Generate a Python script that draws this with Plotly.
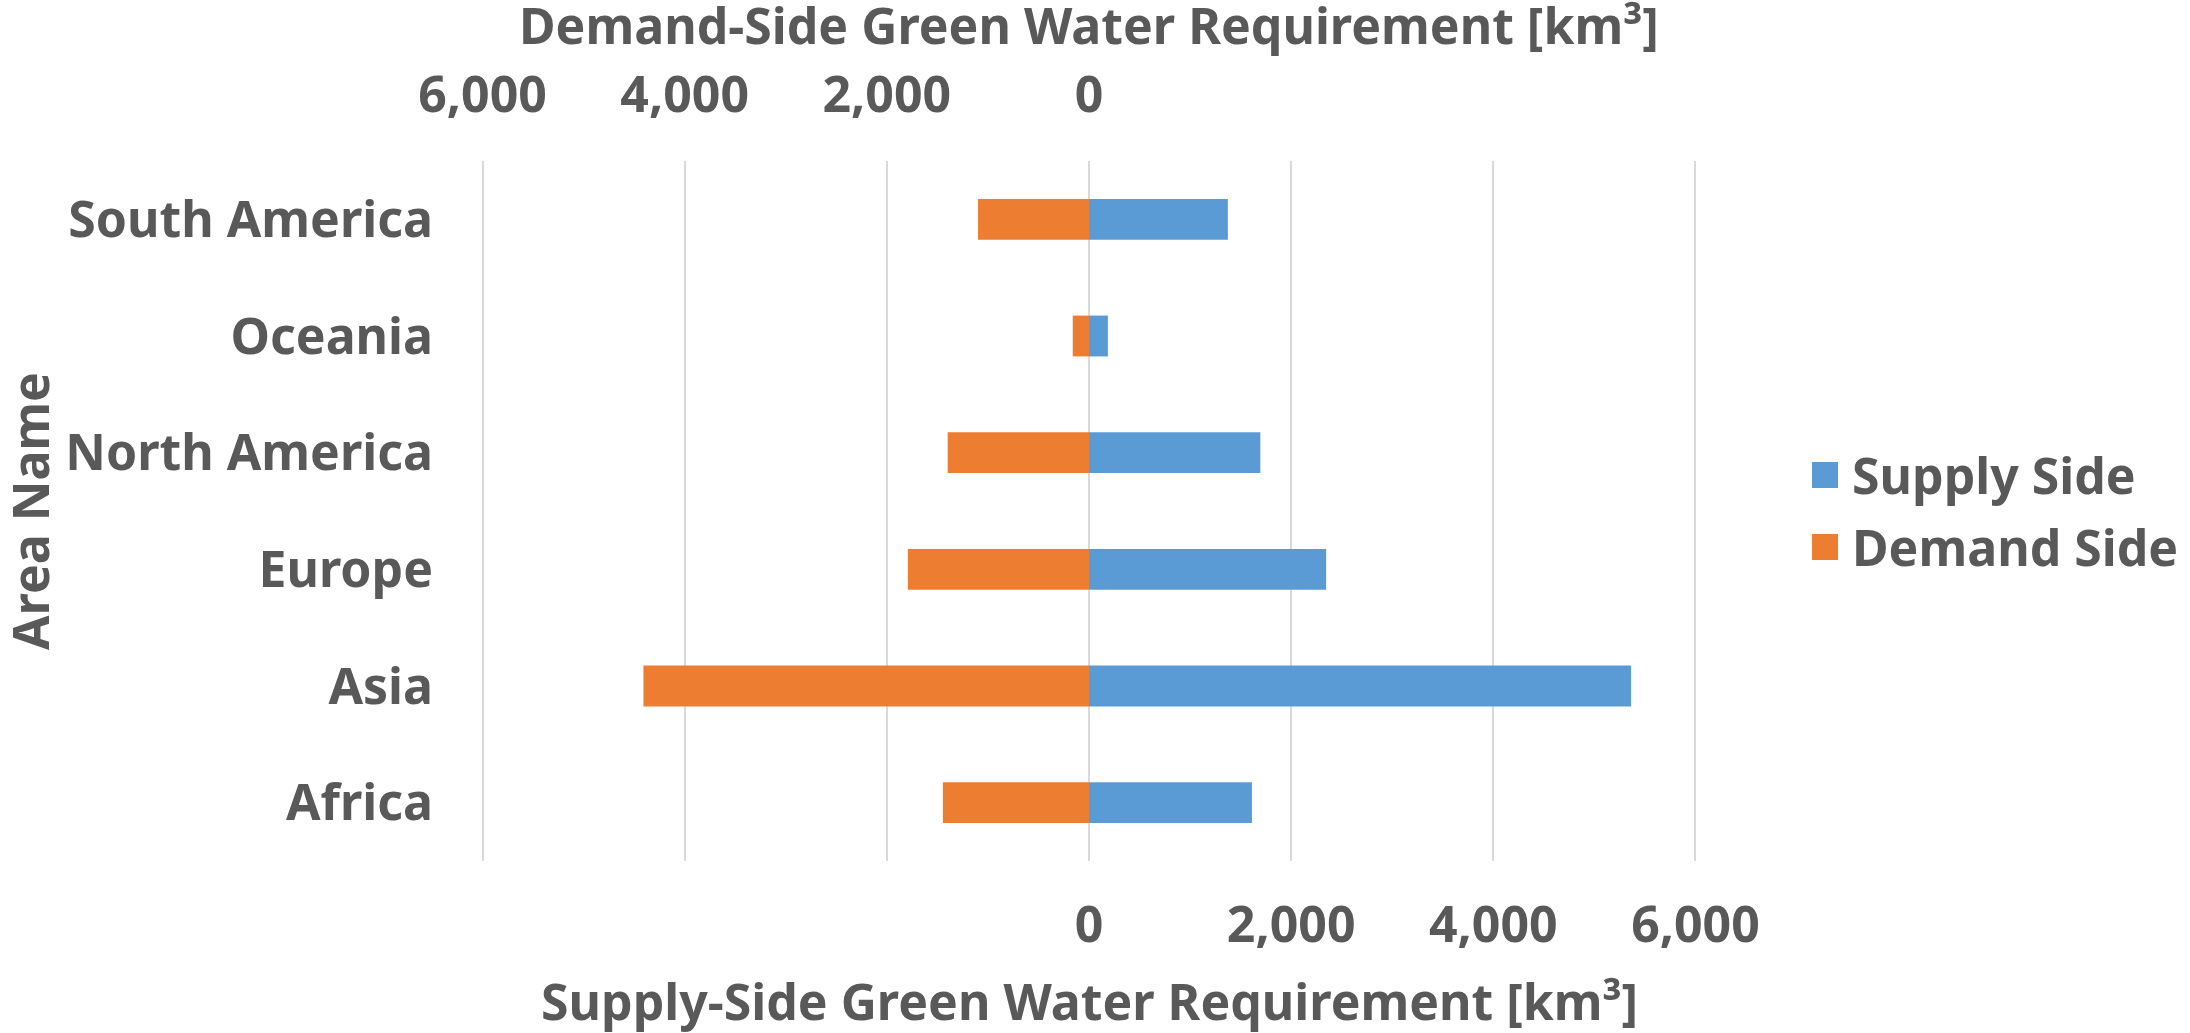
import plotly.graph_objects as go

# Green water requirement by world region [km3]
areas = ["Africa", "Asia", "Europe", "North America", "Oceania", "South America"]
supply_side = [1612, 5363, 2346, 1695, 187, 1374]
demand_side = [1446, 4408, 1792, 1398, 161, 1098]

bottom_ticks = [-6000, -4000, -2000, 0, 2000, 4000, 6000]
bottom_labels = ["", "", "", "0", "2,000", "4,000", "6,000"]
top_ticks = [0, 2000, 4000, 6000]
top_labels = ["0", "2,000", "4,000", "6,000"]

BLUE = "#5B9BD5"
ORANGE = "#ED7D31"
TEXT = "#595959"
GRID = "#D9D9D9"
FONT = "Noto Sans"
FS = 50
X_LIMIT = 6025  # slightly past 6,000 so the outermost gridlines are drawn

W, H = 2190, 1033
L, R, T, B = 480, 492, 161, 172
PW, PH = W - L - R, H - T - B


def px_x(x):
    return (x - L) / PW


def px_y(y):
    return (H - B - y) / PH


fig = go.Figure()

fig.add_trace(go.Bar(
    y=areas, x=supply_side, orientation="h", name="Supply Side",
    marker=dict(color=BLUE, line=dict(width=0)),
    xaxis="x", yaxis="y", showlegend=False,
))
# Demand side is drawn on the reversed top axis so it grows to the left
fig.add_trace(go.Bar(
    y=areas, x=demand_side, orientation="h", name="Demand Side",
    marker=dict(color=ORANGE, line=dict(width=0)),
    xaxis="x2", yaxis="y", showlegend=False,
))

tick_font = dict(family=FONT, size=FS, color=TEXT, weight="bold")

fig.update_layout(
    width=W, height=H,
    margin=dict(l=L, r=R, t=T, b=B, pad=0),
    paper_bgcolor="white", plot_bgcolor="white",
    bargap=0.65, barmode="overlay",
    showlegend=False,
    font=dict(family=FONT, color=TEXT),
    xaxis=dict(
        range=[-X_LIMIT, X_LIMIT], tickvals=bottom_ticks, ticktext=bottom_labels,
        showgrid=True, gridcolor=GRID, gridwidth=1.5, zeroline=False,
        showline=False, ticks="", tickfont=tick_font, ticklabelstandoff=30,
        fixedrange=True,
    ),
    xaxis2=dict(
        range=[X_LIMIT, -X_LIMIT], overlaying="x", side="top",
        tickvals=top_ticks, ticktext=top_labels,
        showgrid=False, zeroline=False, showline=False,
        ticks="outside", ticklen=28, tickcolor="rgba(0,0,0,0)",
        tickfont=tick_font, fixedrange=True,
    ),
    yaxis=dict(
        type="category", categoryorder="array", categoryarray=areas,
        showgrid=False, zeroline=False, showline=False, ticks="",
        tickfont=tick_font, ticklabelstandoff=46, fixedrange=True,
    ),
)

title_font = dict(family=FONT, size=FS, color=TEXT, weight="bold")
annotations = [
    dict(text="Supply-Side Green Water Requirement [km³]", x=0.5, y=px_y(1001),
         xref="paper", yref="paper", showarrow=False, font=title_font,
         xanchor="center", yanchor="middle"),
    dict(text="Demand-Side Green Water Requirement [km³]", x=0.5, y=px_y(25),
         xref="paper", yref="paper", showarrow=False, font=title_font,
         xanchor="center", yanchor="middle"),
    dict(text="Area Name", x=px_x(30), y=0.5, textangle=-90,
         xref="paper", yref="paper", showarrow=False, font=title_font,
         xanchor="center", yanchor="middle"),
]

# Legend: colour swatch plus label for each series
legend_items = [("Supply Side", BLUE, 475), ("Demand Side", ORANGE, 547)]
shapes = []
for label, color, cy in legend_items:
    shapes.append(dict(type="rect", xref="paper", yref="paper",
                       x0=px_x(1812), x1=px_x(1838),
                       y0=px_y(cy + 13), y1=px_y(cy - 13),
                       fillcolor=color, line=dict(width=0)))
    annotations.append(dict(text=label, x=px_x(1850), y=px_y(cy),
                            xref="paper", yref="paper", showarrow=False,
                            font=title_font, xanchor="left", yanchor="middle"))

fig.update_layout(annotations=annotations, shapes=shapes)

fig.write_html("out.html")
